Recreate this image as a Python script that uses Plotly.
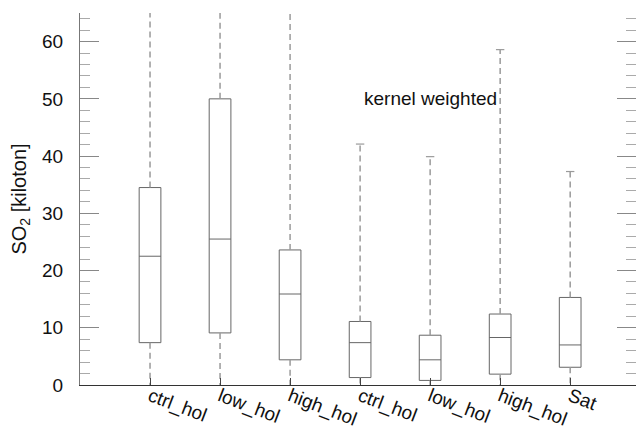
import plotly.graph_objects as go

categories = ["ctrl_hol", "low_hol", "high_hol", "ctrl_hol", "low_hol", "high_hol", "Sat"]
positions = [1, 2, 3, 4, 5, 6, 7]
q1 = [7.4, 9.1, 4.4, 1.3, 0.8, 1.9, 3.1]
median = [22.5, 25.5, 15.9, 7.4, 4.4, 8.3, 7.0]
q3 = [34.5, 50.0, 23.6, 11.1, 8.7, 12.4, 15.3]
whisker_low = [0, 0, 0, 0, 0, 0, 0]
whisker_high = [80, 80, 80, 42.1, 39.9, 58.6, 37.3]
y_ticks = [0, 10, 20, 30, 40, 50, 60]

FONT = "Liberation Sans, Arial, sans-serif"
BOX_COL = "#666666"
WHISK_COL = "#9a9a9a"

fig = go.Figure()

# dashed whiskers
wx, wy = [], []
for p, a, b, lo, hi in zip(positions, q1, q3, whisker_low, whisker_high):
    wx += [p, p, None, p, p, None]
    wy += [b, hi, None, a, lo, None]
fig.add_trace(go.Scatter(x=wx, y=wy, mode="lines",
                         line=dict(color=WHISK_COL, width=1.5, dash="6px,4px"),
                         hoverinfo="skip", showlegend=False))

# caps
cx = [p for p, hi in zip(positions, whisker_high) if hi < 65]
cy = [hi for hi in whisker_high if hi < 65]
fig.add_trace(go.Scatter(x=cx, y=cy, mode="markers",
                         marker=dict(symbol="line-ew", size=6,
                                     line=dict(color=WHISK_COL, width=1.2)),
                         hoverinfo="skip", showlegend=False))

fig.add_trace(go.Box(x=positions, q1=q1, median=median, q3=q3,
                     lowerfence=q1, upperfence=q3, width=0.31,
                     whiskerwidth=0, boxpoints=False,
                     line=dict(color=BOX_COL, width=1),
                     fillcolor="rgba(0,0,0,0)", showlegend=False))

fig.add_annotation(x=5, y=50, text="kernel weighted", showarrow=False,
                   xanchor="center", yanchor="middle",
                   font=dict(family=FONT, size=19, color="#111111"))

fig.update_layout(
    width=636, height=430,
    margin=dict(l=80, r=0, t=13, b=45),
    paper_bgcolor="white", plot_bgcolor="white",
    font=dict(family=FONT, size=19, color="#111111"),
    xaxis=dict(range=[0, 7.94], tickvals=positions, ticktext=categories,
               tickangle=21, ticks="inside", ticklen=7, tickcolor="#444444",
               showline=True, linecolor="#333333", linewidth=1,
               showgrid=False, zeroline=False, automargin=False,
               ticklabelstandoff=-8,
               tickfont=dict(family=FONT, size=19, color="#111111")),
    yaxis=dict(range=[0, 65], tickvals=y_ticks, ticks="inside", ticklen=19,
               tickcolor="#888888", showline=True, linecolor="#777777",
               linewidth=1, mirror="allticks", showgrid=False, zeroline=False,
               automargin=False,
               minor=dict(dtick=2, ticks="inside", ticklen=10,
                          tickcolor="#aaaaaa", showgrid=False),
               ticklabelstandoff=12,
               title=dict(text="SO<sub>2</sub> [kiloton]", standoff=10,
                          font=dict(family=FONT, size=20, color="#111111")),
               tickfont=dict(family=FONT, size=19, color="#111111")),
)

fig.write_html("out.html")
